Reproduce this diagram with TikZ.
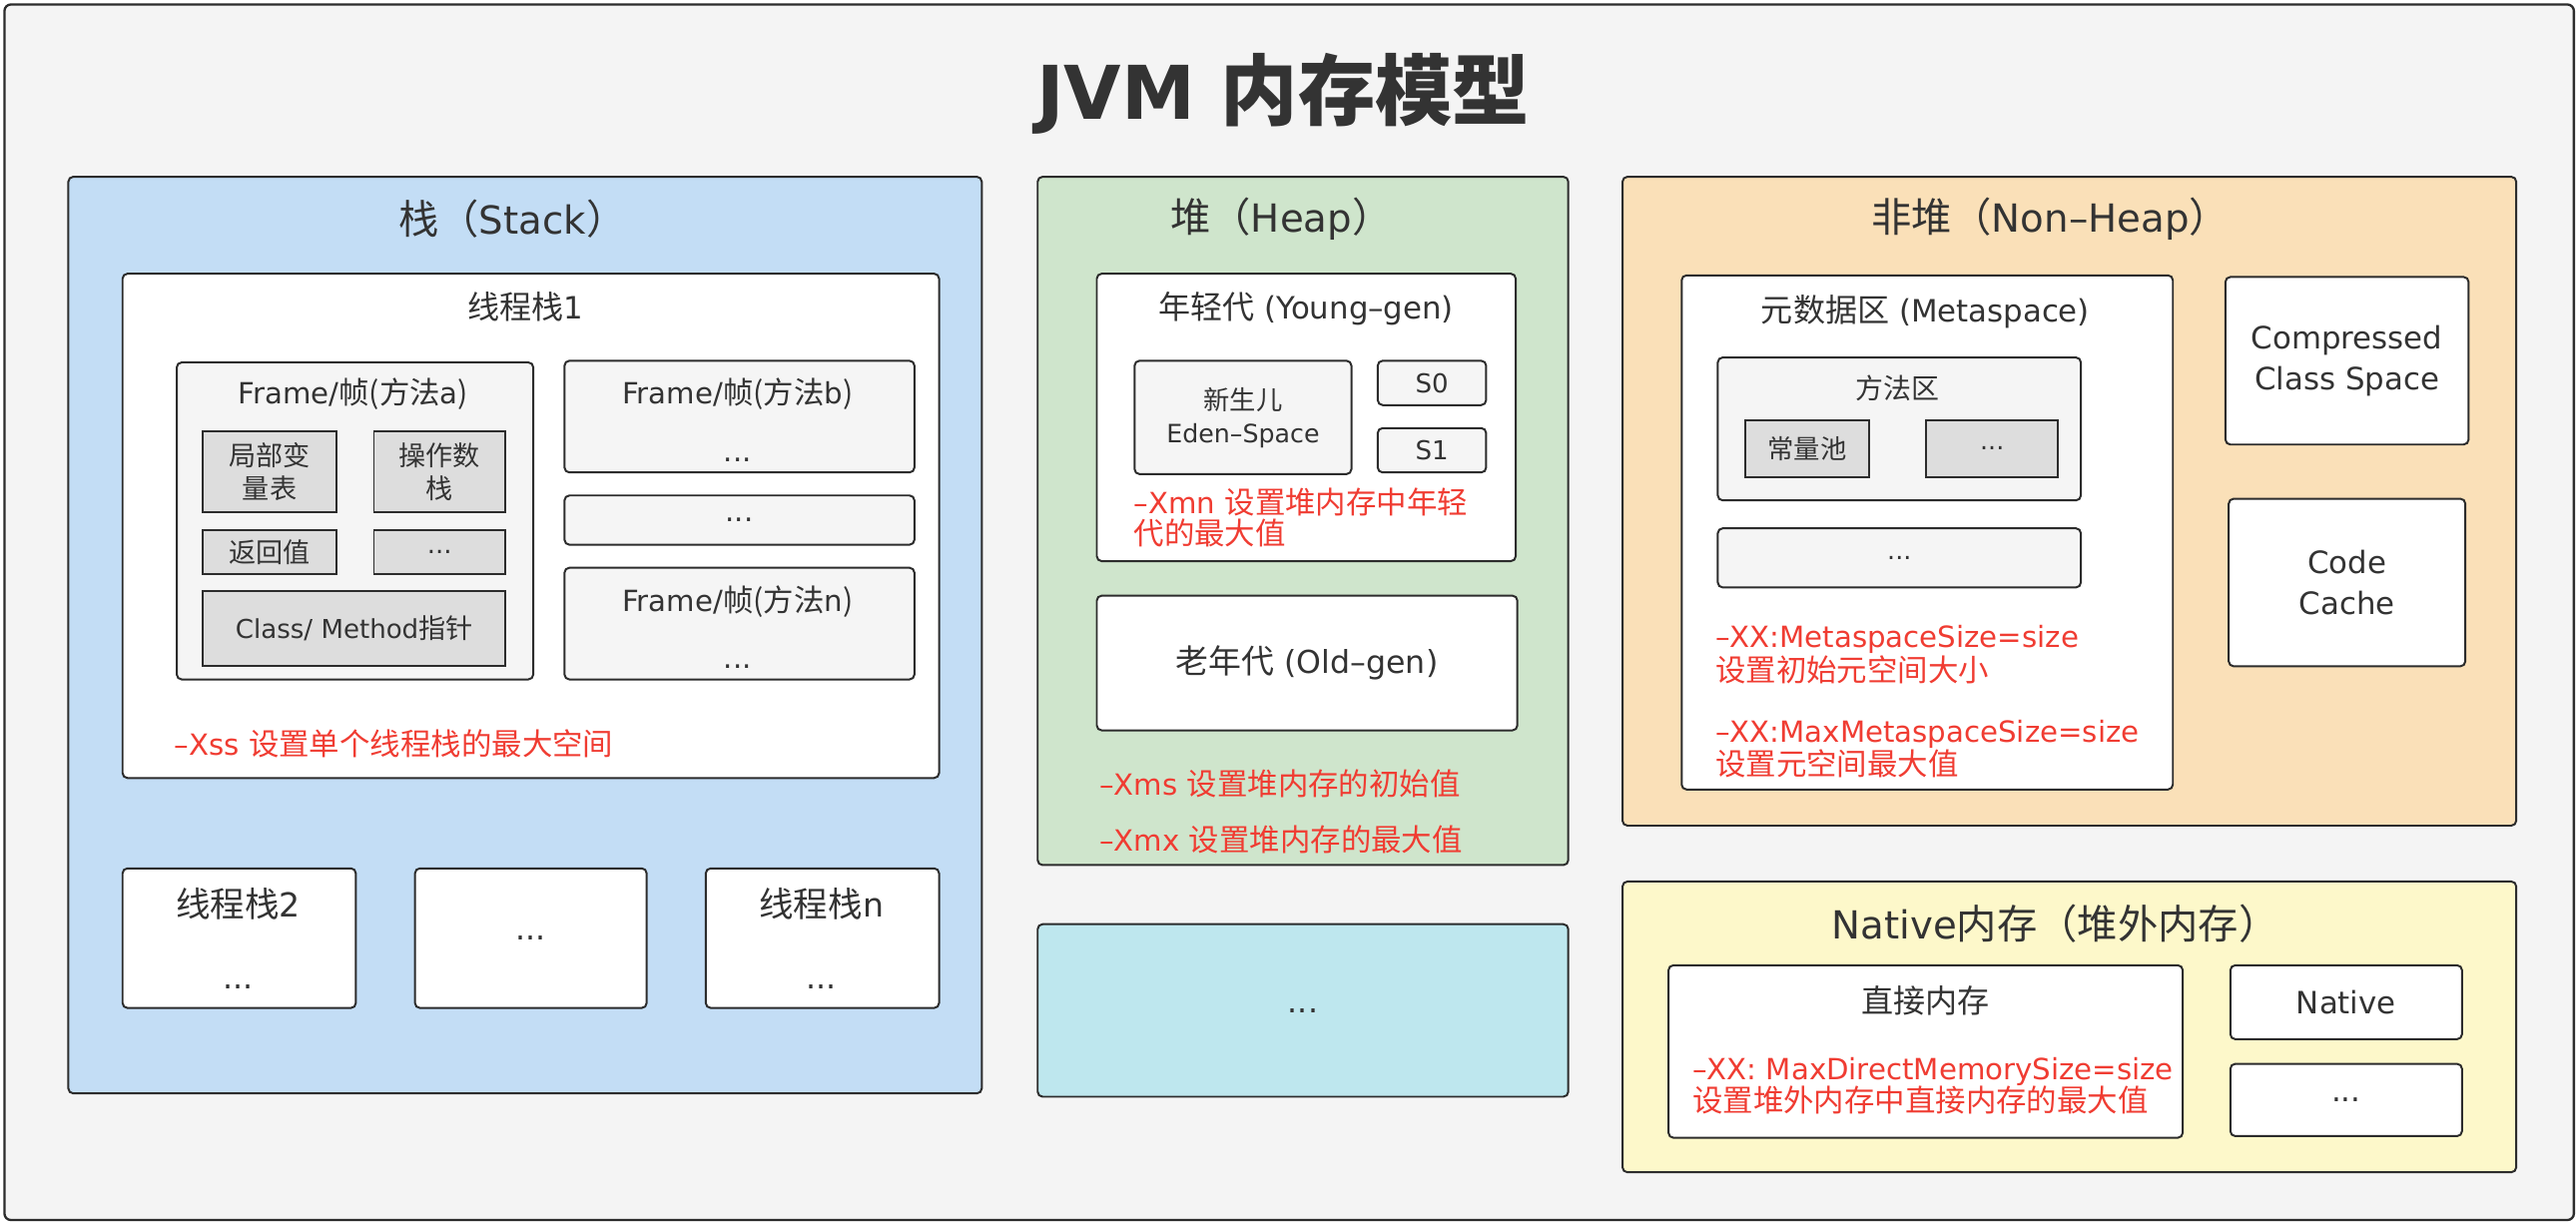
\documentclass[tikz,border=0pt]{standalone}
\usepackage{fontspec}
\setmainfont{Noto Sans CJK SC}
\newfontfamily\latfont[Scale=0.96]{DejaVu Sans}
\newcommand{\lat}[1]{{\latfont #1}}
\usetikzlibrary{positioning}
\definecolor{bggray}{HTML}{F4F4F4}
\definecolor{linegray}{HTML}{2C2C2C}
\definecolor{txtgray}{HTML}{333333}
\definecolor{notered}{HTML}{F03C32}
\definecolor{stackblue}{HTML}{C3DDF5}
\definecolor{heapgreen}{HTML}{CFE5CC}
\definecolor{heapcyan}{HTML}{BEE7EE}
\definecolor{nonheaporange}{HTML}{FAE0B8}
\definecolor{nativeyellow}{HTML}{FDF8CA}
\definecolor{framegray}{HTML}{F5F5F5}
\definecolor{cellgray}{HTML}{DDDDDD}

\begin{document}
\begin{tikzpicture}[x=1pt, y=-1pt,
    area/.style={draw=linegray, line width=1.2pt, rounded corners=3pt, anchor=north west, inner sep=0pt, text=txtgray, align=center},
    whitebox/.style={area, fill=white},
    framebox/.style={area, fill=framegray},
    cellbox/.style={area, sharp corners, fill=cellgray, font=\fontsize{16.5}{20}\selectfont},
    areatitle/.style={text=txtgray, inner sep=0pt, font=\fontsize{24.5}{28}\selectfont},
    boxtitle/.style={text=txtgray, inner sep=0pt, font=\fontsize{19.5}{24}\selectfont},
    frametitle/.style={text=txtgray, inner sep=0pt, font=\fontsize{18.5}{22}\selectfont},
    ellip/.style={text=txtgray, inner sep=0pt, anchor=base, font=\fontsize{18.5}{22}\selectfont},
    note/.style={text=notered, inner sep=0pt, anchor=west, align=left, font=\fontsize{18.5}{19}\selectfont}
]
    \useasboundingbox (0,0) rectangle (1568,744);
    \node[area, fill=bggray, line width=1.4pt, rounded corners=4pt, minimum width=1564pt, minimum height=740pt] (canvas) at (2,2) {};
    \node[text=txtgray, font=\bfseries\fontsize{47}{56}\selectfont] (maintitle) at (781,57) {\lat{JVM }内存模型};

    % stack
    \node[area, fill=stackblue, minimum width=556pt, minimum height=558pt] (stack) at (41,107) {};
    \node[areatitle] (stacktitle) at (312,133) {栈（\lat{Stack}）};
    \node[whitebox, minimum width=497pt, minimum height=307pt] (stack1) at (74,166) {};
    \node[boxtitle] (stack1title) at (320,187) {线程栈\lat{1}};
    \node[framebox, minimum width=217pt, minimum height=193pt] (framea) at (107,220) {};
    \node[frametitle] (frameatitle) at (215,240) {\lat{Frame/}帧(方法\lat{a})};
    \node[cellbox, minimum width=81pt, minimum height=49pt] (locals) at (123,262) {局部变\\量表};
    \node[cellbox, minimum width=80pt, minimum height=49pt] (operands) at (227,262) {操作数\\栈};
    \node[cellbox, minimum width=81pt, minimum height=27pt] (retval) at (123,322) {返回值};
    \node[cellbox, minimum width=80pt, minimum height=27pt] (framemore) at (227,322) {\lat{...}};
    \node[cellbox, minimum width=184pt, minimum height=46pt] (methodptr) at (123,359) {\lat{Class/ Method}指针};
    \node[framebox, minimum width=213pt, minimum height=68pt] (frameb) at (343,219) {};
    \node[frametitle] (framebtitle) at (449,240) {\lat{Frame/}帧(方法\lat{b})};
    \node[ellip] (framebdots) at (449,281) {\lat{...}};
    \node[framebox, minimum width=213pt, minimum height=30pt, font=\fontsize{18.5}{22}\selectfont] (framemid) at (343,301) {\lat{...}};
    \node[framebox, minimum width=213pt, minimum height=68pt] (framen) at (343,345) {};
    \node[frametitle] (framentitle) at (449,366) {\lat{Frame/}帧(方法\lat{n})};
    \node[ellip] (framendots) at (449,407) {\lat{...}};
    \node[note] (xss) at (106,453) {\lat{–Xss }设置单个线程栈的最大空间};

    \node[whitebox, minimum width=142pt, minimum height=85pt] (stack2) at (74,528) {};
    \node[boxtitle, font=\fontsize{21}{25}\selectfont] (stack2title) at (145,550) {线程栈\lat{2}};
    \node[ellip, font=\fontsize{20}{24}\selectfont] (stack2dots) at (145,602) {\lat{...}};
    \node[whitebox, minimum width=141pt, minimum height=85pt, font=\fontsize{20}{24}\selectfont] (stackmore) at (252,528) {\lat{...}};
    \node[whitebox, minimum width=142pt, minimum height=85pt] (stackn) at (429,528) {};
    \node[boxtitle, font=\fontsize{21}{25}\selectfont] (stackntitle) at (500,550) {线程栈\lat{n}};
    \node[ellip, font=\fontsize{20}{24}\selectfont] (stackndots) at (500,602) {\lat{...}};

    % heap
    \node[area, fill=heapgreen, minimum width=323pt, minimum height=419pt] (heap) at (631,107) {};
    \node[areatitle] (heaptitle) at (780,133) {堆（\lat{Heap}）};
    \node[whitebox, minimum width=255pt, minimum height=175pt] (young) at (667,166) {};
    \node[boxtitle] (youngtitle) at (795,188) {年轻代\lat{ (Young–gen)}};
    \node[framebox, minimum width=132pt, minimum height=69pt, font=\fontsize{16}{20}\selectfont] (eden) at (690,219) {新生儿\\\lat{Eden–Space}};
    \node[framebox, minimum width=66pt, minimum height=27pt, font=\fontsize{16.5}{20}\selectfont] (s0) at (838,219) {\lat{S0}};
    \node[framebox, minimum width=66pt, minimum height=27pt, font=\fontsize{16.5}{20}\selectfont] (s1) at (838,260) {\lat{S1}};
    \node[note] (xmn) at (690,315) {\lat{–Xmn }设置堆内存中年轻\\代的最大值};
    \node[whitebox, minimum width=256pt, minimum height=82pt, font=\fontsize{20}{24}\selectfont] (old) at (667,362) {老年代\lat{ (Old–gen)}};
    \node[note] (xms) at (669,477) {\lat{–Xms }设置堆内存的初始值};
    \node[note] (xmx) at (669,511) {\lat{–Xmx }设置堆内存的最大值};
    \node[area, fill=heapcyan, minimum width=323pt, minimum height=105pt, font=\fontsize{20}{24}\selectfont] (heapmore) at (631,562) {\lat{...}};

    % non-heap
    \node[area, fill=nonheaporange, minimum width=544pt, minimum height=395pt] (nonheap) at (987,107) {};
    \node[areatitle] (nonheaptitle) at (1248,133) {非堆（\lat{Non–Heap}）};
    \node[whitebox, minimum width=299pt, minimum height=313pt] (meta) at (1023,167) {};
    \node[boxtitle] (metatitle) at (1172,190) {元数据区\lat{ (Metaspace)}};
    \node[framebox, minimum width=221pt, minimum height=87pt] (methodarea) at (1045,217) {};
    \node[frametitle, font=\fontsize{17}{20}\selectfont] (methodareatitle) at (1155,236) {方法区};
    \node[cellbox, minimum width=75pt, minimum height=35pt, font=\fontsize{16}{20}\selectfont] (constpool) at (1062,255) {常量池};
    \node[cellbox, minimum width=80pt, minimum height=35pt, font=\fontsize{16}{20}\selectfont] (poolmore) at (1172,255) {\lat{...}};
    \node[framebox, minimum width=221pt, minimum height=36pt, font=\fontsize{16}{20}\selectfont] (metamore) at (1045,321) {\lat{...}};
    \node[note, font=\fontsize{18.5}{21}\selectfont] (metasize) at (1044,398.5) {\lat{–XX:MetaspaceSize=size}\\设置初始元空间大小};
    \node[note, font=\fontsize{18.5}{20}\selectfont] (maxmetasize) at (1044,456) {\lat{–XX:MaxMetaspaceSize=size}\\设置元空间最大值};
    \node[whitebox, minimum width=148pt, minimum height=102pt, font=\fontsize{19.5}{25}\selectfont] (ccs) at (1354,168) {\lat{Compressed}\\\lat{Class Space}};
    \node[whitebox, minimum width=144pt, minimum height=102pt, font=\fontsize{19.5}{25}\selectfont] (codecache) at (1356,303) {\lat{Code}\\\lat{Cache}};

    % native
    \node[area, fill=nativeyellow, minimum width=544pt, minimum height=177pt] (native) at (987,536) {};
    \node[areatitle] (nativetitle) at (1251,562) {\lat{Native}内存（堆外内存）};
    \node[whitebox, minimum width=313pt, minimum height=105pt] (direct) at (1015,587) {};
    \node[boxtitle] (directtitle) at (1172,609) {直接内存};
    \node[note, font=\fontsize{18.5}{20}\selectfont] (directsize) at (1030,661) {\lat{–XX: MaxDirectMemorySize=size}\\设置堆外内存中直接内存的最大值};
    \node[whitebox, minimum width=141pt, minimum height=45pt, font=\fontsize{19.5}{24}\selectfont] (nativelib) at (1357,587) {\lat{Native}};
    \node[whitebox, minimum width=141pt, minimum height=44pt, font=\fontsize{19.5}{24}\selectfont] (nativemore) at (1357,647) {\lat{...}};
\end{tikzpicture}
\end{document}
